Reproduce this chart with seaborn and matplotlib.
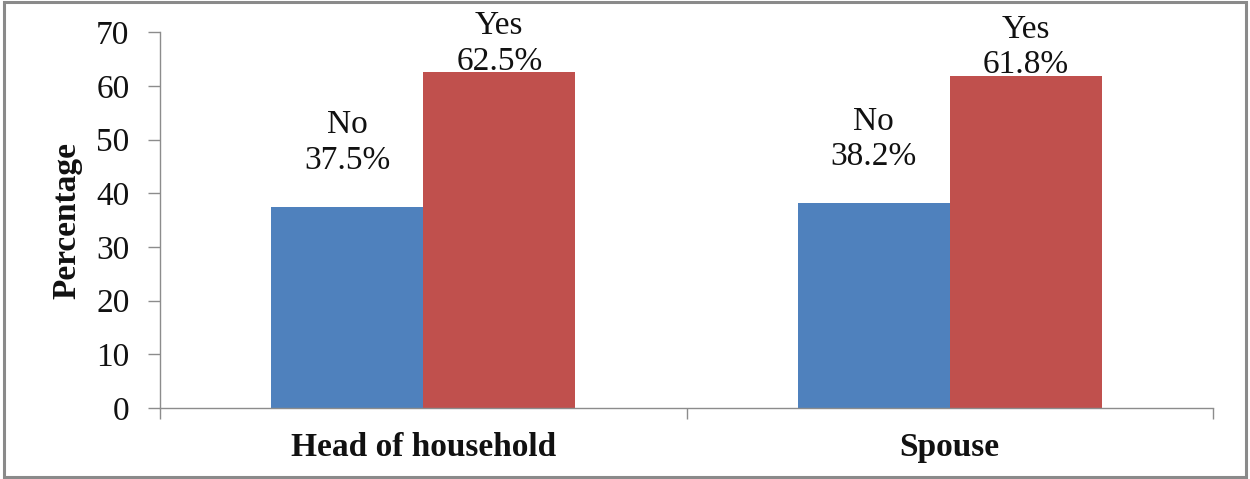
import matplotlib
matplotlib.use("Agg")
import matplotlib.pyplot as plt
from matplotlib.patches import Rectangle
import seaborn as sns
import pandas as pd

# Survey responses by household role
roles = ["Head of household", "Spouse"]
answers = ["No", "Yes"]
no_pct = [37.5, 38.2]
yes_pct = [62.5, 61.8]
y_ticks = [0, 10, 20, 30, 40, 50, 60, 70]

colors = {"No": "#4F81BD", "Yes": "#C0504D"}

df = pd.DataFrame({
    "role": roles * 2,
    "answer": ["No"] * len(roles) + ["Yes"] * len(roles),
    "pct": no_pct + yes_pct,
})

sns.set_theme(style="white")
plt.rcParams["font.family"] = ["Liberation Serif", "DejaVu Serif"]

FS = 24

fig = plt.figure(figsize=(12.5, 4.79), dpi=100)
ax = fig.add_axes([0.128, 0.148, 0.8424, 0.785])

sns.barplot(data=df, x="role", y="pct", hue="answer", hue_order=answers,
            order=roles, palette=colors, width=0.578, saturation=1,
            edgecolor="none", linewidth=0, legend=False, ax=ax)

# Two-line value labels above each bar
label_gap = {"No": 22, "Yes": -3}
for cont, ans in zip(ax.containers, answers):
    for bar in cont:
        val = bar.get_height()
        ax.annotate(f"{ans}\n{val:.1f}%",
                    xy=(bar.get_x() + bar.get_width() / 2, val),
                    xytext=(0, label_gap[ans]), textcoords="offset points",
                    ha="center", va="bottom", fontsize=FS, color="#111111",
                    linespacing=1.22, annotation_clip=False)

ax.set_ylim(0, 70)
ax.set_yticks(y_ticks)
ax.set_xlim(-0.5, len(roles) - 0.5)
ax.set_xticks(range(len(roles)))
ax.set_xticks([i - 0.5 for i in range(len(roles) + 1)], minor=True)
ax.tick_params(axis="x", which="major", length=0, pad=17, labelsize=FS)
ax.tick_params(axis="x", which="minor", length=8, width=1, color="#8c8c8c",
               direction="out", bottom=True)
ax.tick_params(axis="y", length=9, width=1, color="#8c8c8c", direction="out",
               left=True, labelsize=FS, pad=13, labelcolor="#111111")
for lbl in ax.get_xticklabels():
    lbl.set_fontweight("bold")
    lbl.set_color("#111111")

ax.set_xlabel("")
ax.set_ylabel("Percentage", fontsize=FS, fontweight="bold", labelpad=10,
              color="#111111")

for side in ["top", "right"]:
    ax.spines[side].set_visible(False)
for side in ["left", "bottom"]:
    ax.spines[side].set_color("#8c8c8c")
    ax.spines[side].set_linewidth(1)

# Frame around the whole chart
fig.patches.append(Rectangle((0.003, 0.005), 0.994, 0.99, transform=fig.transFigure,
                             fill=False, edgecolor="#8a8a8a", linewidth=2.2))

fig.savefig("out.png", dpi=100)
